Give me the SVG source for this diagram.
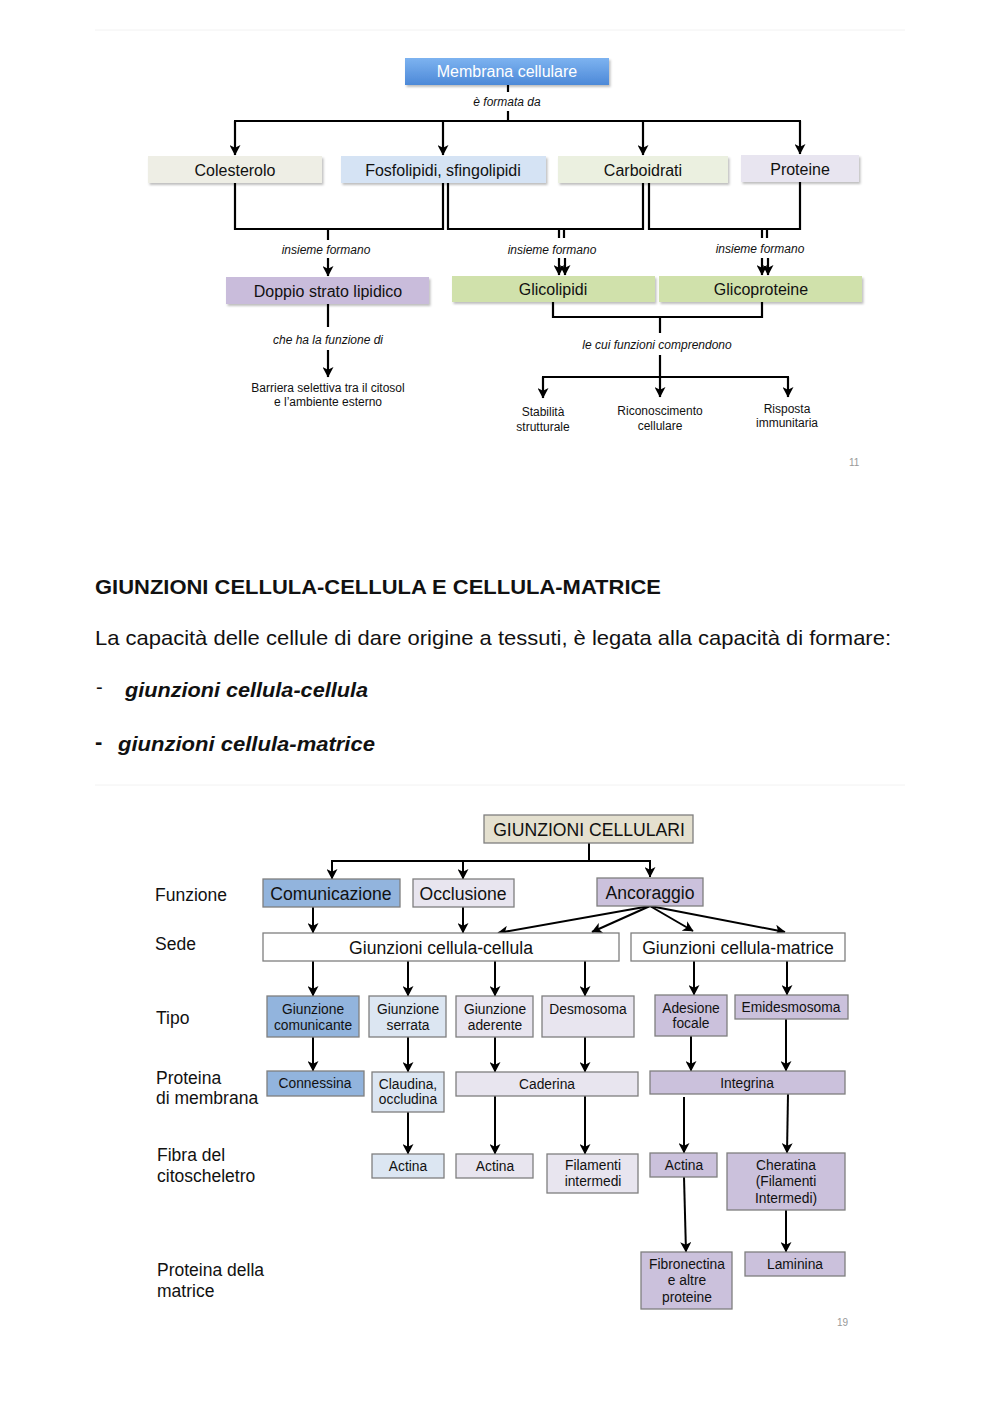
<svg xmlns="http://www.w3.org/2000/svg" width="1000" height="1415" viewBox="0 0 1000 1415">
<style>
text{font-family:"Liberation Sans",Arial,sans-serif;fill:#111}
.t15{font-size:16px;text-anchor:middle}
.it{font-size:12px;font-style:italic;text-anchor:middle}
.s12{font-size:12px;text-anchor:middle}
.b17{font-size:17.6px;text-anchor:middle}
.b13{font-size:13.8px;text-anchor:middle}
.lab{font-size:17.5px}
.c{stroke:#000;stroke-width:2.2;fill:none}
.cb{stroke:#000;stroke-width:2;fill:none}
.a{marker-end:url(#ah)}
.bx{stroke:#7f7f7f;stroke-width:1.3}
.pg{font-size:10px;fill:#999}
</style>
<defs>
<marker id="ah" markerUnits="userSpaceOnUse" markerWidth="11" markerHeight="11" viewBox="0 0 10 10" refX="9" refY="5" orient="auto">
<path d="M0,0 L9.5,5 L0,10 L2.5,5 z" fill="#000"/>
</marker>
<linearGradient id="gblue" x1="0" y1="0" x2="0" y2="1">
<stop offset="0" stop-color="#7db3f0"/>
<stop offset="1" stop-color="#4d89d8"/>
</linearGradient>
<filter id="sh" x="-5%" y="-20%" width="115%" height="160%">
<feDropShadow dx="1.5" dy="2" stdDeviation="1.2" flood-color="#000" flood-opacity="0.25"/>
</filter>
</defs>
<rect width="1000" height="1415" fill="#fff"/>
<line x1="95" y1="30" x2="905" y2="30" stroke="#f2f2f2" stroke-width="1"/>
<line x1="95" y1="785" x2="905" y2="785" stroke="#f2f2f2" stroke-width="1"/>

<!-- TOP DIAGRAM -->
<g id="top-connectors">
<line class="c" x1="508" y1="85" x2="508" y2="92"/>
<line class="c" x1="508" y1="111" x2="508" y2="121"/>
<line class="c" x1="234" y1="121" x2="801" y2="121"/>
<line class="c a" x1="235" y1="121" x2="235" y2="155"/>
<line class="c a" x1="443" y1="121" x2="443" y2="155"/>
<line class="c a" x1="643" y1="121" x2="643" y2="155"/>
<line class="c a" x1="800" y1="121" x2="800" y2="154"/>
<path class="c" d="M235,183 V229 H443 V183"/>
<path class="c" d="M448,183 V229 H643 V183"/>
<path class="c" d="M649,183 V229 H800 V182"/>
<line class="c" x1="328" y1="229" x2="328" y2="240"/>
<line class="c" x1="559" y1="229" x2="559" y2="238"/>
<line class="c" x1="564" y1="229" x2="564" y2="238"/>
<line class="c" x1="762" y1="229" x2="762" y2="238"/>
<line class="c" x1="767" y1="229" x2="767" y2="238"/>
<line class="c a" x1="328" y1="258" x2="328" y2="276"/>
<line class="c a" x1="559" y1="258" x2="559" y2="275"/>
<line class="c a" x1="565" y1="258" x2="565" y2="275"/>
<line class="c a" x1="762" y1="258" x2="762" y2="275"/>
<line class="c a" x1="768" y1="258" x2="768" y2="275"/>
<line class="c" x1="328" y1="304" x2="328" y2="327"/>
<line class="c a" x1="328" y1="350" x2="328" y2="377"/>
<path class="c" d="M553,302 V317 H762 V302"/>
<line class="c" x1="660" y1="317" x2="660" y2="333"/>
<line class="c a" x1="660" y1="355" x2="660" y2="397"/>
<line class="c" x1="542" y1="377" x2="789" y2="377"/>
<line class="c a" x1="543" y1="377" x2="543" y2="398"/>
<line class="c a" x1="788" y1="377" x2="788" y2="397"/>
<text class="it" x="507" y="106">è formata da</text>
<text class="it" x="326" y="254">insieme formano</text>
<text class="it" x="552" y="254">insieme formano</text>
<text class="it" x="760" y="253">insieme formano</text>
<text class="it" x="328" y="344">che ha la funzione di</text>
<text class="it" x="657" y="349">le cui funzioni comprendono</text>
</g>
<g id="n-membrana">
<rect x="405" y="58" width="204" height="27" fill="url(#gblue)" filter="url(#sh)"/>
<text class="t15" x="507" y="77" style="fill:#fff">Membrana cellulare</text>
</g>
<g id="n-colesterolo">
<rect x="148" y="156" width="174" height="27" fill="#eeeee5" filter="url(#sh)"/>
<text class="t15" x="235" y="175.5">Colesterolo</text>
</g>
<g id="n-fosfolipidi">
<rect x="341" y="156" width="205" height="27" fill="#d5e3f4" filter="url(#sh)"/>
<text class="t15" x="443" y="175.5">Fosfolipidi, sfingolipidi</text>
</g>
<g id="n-carboidrati">
<rect x="558" y="156" width="170" height="27" fill="#ebf0e0" filter="url(#sh)"/>
<text class="t15" x="643" y="175.5">Carboidrati</text>
</g>
<g id="n-proteine">
<rect x="741" y="155" width="118" height="27" fill="#e8e5f0" filter="url(#sh)"/>
<text class="t15" x="800" y="174.5">Proteine</text>
</g>
<g id="n-doppio">
<rect x="226" y="277" width="203" height="27" fill="#c9bcdb" filter="url(#sh)"/>
<text class="t15" x="328" y="296.5">Doppio strato lipidico</text>
</g>
<g id="n-glicolipidi">
<rect x="452" y="276" width="203" height="26" fill="#d0e1ab" filter="url(#sh)"/>
<text class="t15" x="553" y="295">Glicolipidi</text>
</g>
<g id="n-glicoproteine">
<rect x="659" y="276" width="203" height="26" fill="#d0e1ab" filter="url(#sh)"/>
<text class="t15" x="761" y="295">Glicoproteine</text>
</g>
<g id="n-barriera">
<text class="s12" x="328" y="392">Barriera selettiva tra il citosol</text>
<text class="s12" x="328" y="406">e l’ambiente esterno</text>
</g>
<g id="n-stabilita">
<text class="s12" x="543" y="416">Stabilità</text>
<text class="s12" x="543" y="431">strutturale</text>
</g>
<g id="n-riconoscimento">
<text class="s12" x="660" y="415">Riconoscimento</text>
<text class="s12" x="660" y="430">cellulare</text>
</g>
<g id="n-risposta">
<text class="s12" x="787" y="413">Risposta</text>
<text class="s12" x="787" y="427">immunitaria</text>
</g>
<text class="pg" x="849" y="466">11</text>

<!-- MIDDLE TEXT -->
<g id="middle-text">
<text x="95" y="594" style="font-size:20px;font-weight:bold" textLength="566" lengthAdjust="spacingAndGlyphs">GIUNZIONI CELLULA-CELLULA E CELLULA-MATRICE</text>
<text x="95" y="645" style="font-size:21px" textLength="796" lengthAdjust="spacingAndGlyphs">La capacità delle cellule di dare origine a tessuti, è legata alla capacità di formare:</text>
<text x="96" y="694" style="font-size:20px">-</text>
<text x="125" y="697" style="font-size:20px;font-weight:bold;font-style:italic" textLength="243" lengthAdjust="spacingAndGlyphs">giunzioni cellula-cellula</text>
<text x="95" y="749" style="font-size:22px;font-weight:bold">-</text>
<text x="118" y="751" style="font-size:20px;font-weight:bold;font-style:italic" textLength="257" lengthAdjust="spacingAndGlyphs">giunzioni cellula-matrice</text>
</g>

<!-- BOTTOM DIAGRAM -->
<g id="row-labels">
<text class="lab" x="155" y="901">Funzione</text>
<text class="lab" x="155" y="950">Sede</text>
<text class="lab" x="156" y="1024">Tipo</text>
<text class="lab" x="156" y="1084">Proteina</text>
<text class="lab" x="156" y="1104">di membrana</text>
<text class="lab" x="157" y="1161">Fibra del</text>
<text class="lab" x="157" y="1182">citoscheletro</text>
<text class="lab" x="157" y="1276">Proteina della</text>
<text class="lab" x="157" y="1297">matrice</text>
</g>
<g id="bottom-connectors">
<line class="cb" x1="589" y1="843" x2="589" y2="861"/>
<line class="cb" x1="331" y1="861" x2="651" y2="861"/>
<line class="cb a" x1="332" y1="861" x2="332" y2="879"/>
<line class="cb a" x1="463" y1="861" x2="463" y2="879"/>
<line class="cb a" x1="650" y1="861" x2="650" y2="877"/>
<line class="cb a" x1="313" y1="907" x2="313" y2="933"/>
<line class="cb a" x1="463" y1="907" x2="463" y2="933"/>
<line class="cb a" x1="650" y1="906" x2="498" y2="933"/>
<line class="cb a" x1="650" y1="906" x2="592" y2="932"/>
<line class="cb a" x1="650" y1="906" x2="693" y2="931"/>
<line class="cb a" x1="650" y1="906" x2="785" y2="932"/>
<line class="cb a" x1="313" y1="961" x2="313" y2="996"/>
<line class="cb a" x1="408" y1="961" x2="408" y2="996"/>
<line class="cb a" x1="495" y1="961" x2="495" y2="996"/>
<line class="cb a" x1="585" y1="961" x2="585" y2="996"/>
<line class="cb a" x1="694" y1="961" x2="694" y2="995"/>
<line class="cb a" x1="787" y1="961" x2="787" y2="995"/>
<line class="cb a" x1="313" y1="1037" x2="313" y2="1071"/>
<line class="cb a" x1="408" y1="1037" x2="408" y2="1072"/>
<line class="cb a" x1="495" y1="1037" x2="495" y2="1072"/>
<line class="cb a" x1="585" y1="1037" x2="585" y2="1072"/>
<line class="cb a" x1="691" y1="1036" x2="691" y2="1071"/>
<line class="cb a" x1="786" y1="1019" x2="786" y2="1071"/>
<line class="cb a" x1="408" y1="1112" x2="408" y2="1154"/>
<line class="cb a" x1="495" y1="1096" x2="495" y2="1154"/>
<line class="cb a" x1="585" y1="1096" x2="585" y2="1154"/>
<line class="cb a" x1="684" y1="1097" x2="684" y2="1153"/>
<line class="cb a" x1="788" y1="1094" x2="787" y2="1153"/>
<line class="cb a" x1="684" y1="1177" x2="686" y2="1252"/>
<line class="cb a" x1="786" y1="1210" x2="786" y2="1252"/>
</g>
<g id="n-giunzioni-cellulari">
<rect class="bx" x="484" y="815" width="209" height="28" fill="#e4e0cf"/>
<text class="b17" x="589" y="836">GIUNZIONI CELLULARI</text>
</g>
<g id="n-comunicazione">
<rect class="bx" x="263" y="879" width="137" height="28" fill="#92b4dd"/>
<text class="b17" x="331" y="900">Comunicazione</text>
</g>
<g id="n-occlusione">
<rect class="bx" x="413" y="879" width="101" height="28" fill="#e8e5ef"/>
<text class="b17" x="463" y="900">Occlusione</text>
</g>
<g id="n-ancoraggio">
<rect class="bx" x="597" y="878" width="106" height="28" fill="#cbc1dc"/>
<text class="b17" x="650" y="899">Ancoraggio</text>
</g>
<g id="n-sede-cc">
<rect class="bx" x="263" y="933" width="356" height="28" fill="#fff"/>
<text class="b17" x="441" y="954">Giunzioni cellula-cellula</text>
</g>
<g id="n-sede-cm">
<rect class="bx" x="631" y="933" width="214" height="28" fill="#fff"/>
<text class="b17" x="738" y="954">Giunzioni cellula-matrice</text>
</g>
<g id="n-comunicante">
<rect class="bx" x="267" y="996" width="92" height="41" fill="#92b4dd"/>
<text class="b13" x="313" y="1014">Giunzione</text>
<text class="b13" x="313" y="1030">comunicante</text>
</g>
<g id="n-serrata">
<rect class="bx" x="369" y="996" width="77" height="41" fill="#dce6f2"/>
<text class="b13" x="408" y="1014">Giunzione</text>
<text class="b13" x="408" y="1030">serrata</text>
</g>
<g id="n-aderente">
<rect class="bx" x="456" y="996" width="77" height="41" fill="#e8e5ef"/>
<text class="b13" x="495" y="1014">Giunzione</text>
<text class="b13" x="495" y="1030">aderente</text>
</g>
<g id="n-desmosoma">
<rect class="bx" x="542" y="996" width="92" height="41" fill="#e8e5ef"/>
<text class="b13" x="588" y="1014">Desmosoma</text>
</g>
<g id="n-adesione">
<rect class="bx" x="655" y="995" width="72" height="41" fill="#cbc1dc"/>
<text class="b13" x="691" y="1013">Adesione</text>
<text class="b13" x="691" y="1028">focale</text>
</g>
<g id="n-emidesmosoma">
<rect class="bx" x="735" y="995" width="113" height="24" fill="#cbc1dc"/>
<text class="b13" x="791" y="1012">Emidesmosoma</text>
</g>
<g id="n-connessina">
<rect class="bx" x="267" y="1071" width="97" height="25" fill="#92b4dd"/>
<text class="b13" x="315" y="1088">Connessina</text>
</g>
<g id="n-claudina">
<rect class="bx" x="372" y="1072" width="72" height="40" fill="#dce6f2"/>
<text class="b13" x="408" y="1089">Claudina,</text>
<text class="b13" x="408" y="1104">occludina</text>
</g>
<g id="n-caderina">
<rect class="bx" x="456" y="1072" width="182" height="24" fill="#e8e5ef"/>
<text class="b13" x="547" y="1089">Caderina</text>
</g>
<g id="n-integrina">
<rect class="bx" x="650" y="1071" width="195" height="23" fill="#cbc1dc"/>
<text class="b13" x="747" y="1088">Integrina</text>
</g>
<g id="n-actina1">
<rect class="bx" x="372" y="1154" width="72" height="24" fill="#dce6f2"/>
<text class="b13" x="408" y="1171">Actina</text>
</g>
<g id="n-actina2">
<rect class="bx" x="456" y="1154" width="77" height="24" fill="#e8e5ef"/>
<text class="b13" x="495" y="1171">Actina</text>
</g>
<g id="n-filamenti">
<rect class="bx" x="547" y="1154" width="91" height="39" fill="#e8e5ef"/>
<text class="b13" x="593" y="1170">Filamenti</text>
<text class="b13" x="593" y="1186">intermedi</text>
</g>
<g id="n-actina3">
<rect class="bx" x="650" y="1153" width="67" height="24" fill="#cbc1dc"/>
<text class="b13" x="684" y="1170">Actina</text>
</g>
<g id="n-cheratina">
<rect class="bx" x="727" y="1153" width="118" height="57" fill="#cbc1dc"/>
<text class="b13" x="786" y="1170">Cheratina</text>
<text class="b13" x="786" y="1186">(Filamenti</text>
<text class="b13" x="786" y="1203">Intermedi)</text>
</g>
<g id="n-fibronectina">
<rect class="bx" x="641" y="1252" width="91" height="57" fill="#cbc1dc"/>
<text class="b13" x="687" y="1269">Fibronectina</text>
<text class="b13" x="687" y="1285">e altre</text>
<text class="b13" x="687" y="1302">proteine</text>
</g>
<g id="n-laminina">
<rect class="bx" x="745" y="1252" width="100" height="24" fill="#cbc1dc"/>
<text class="b13" x="795" y="1269">Laminina</text>
</g>
<text class="pg" x="837" y="1326">19</text>
</svg>
